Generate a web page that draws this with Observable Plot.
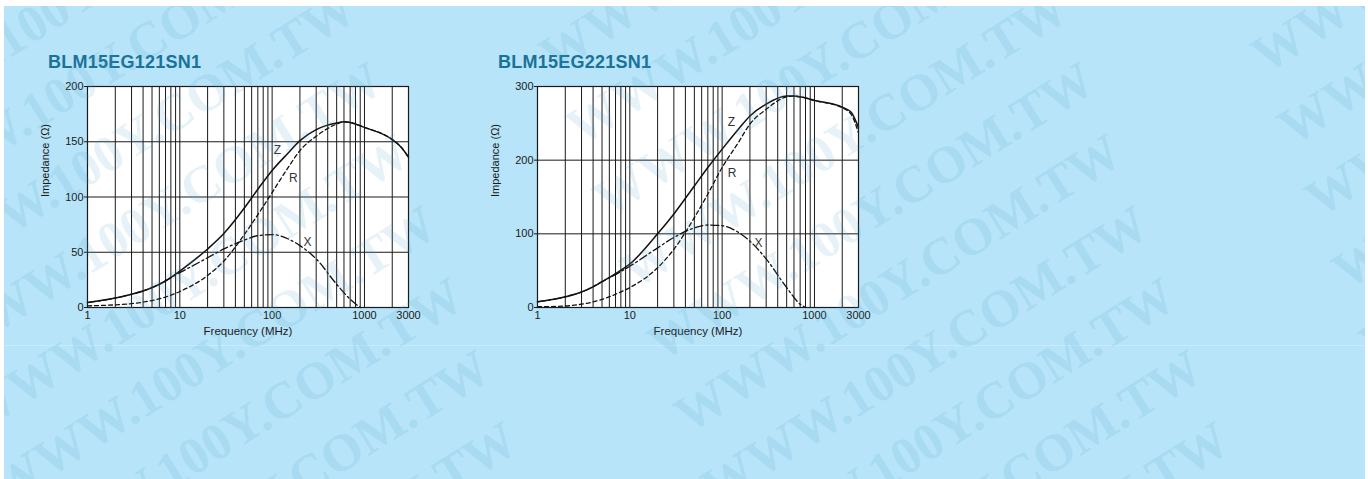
<!DOCTYPE html>
<html>
<head>
<meta charset="utf-8">
<script src="https://cdn.jsdelivr.net/npm/d3@7"></script>
<script src="https://cdn.jsdelivr.net/npm/@observablehq/plot@0.6"></script>
<style>
  html, body { margin: 0; padding: 0; background: #ffffff; }
  body { width: 1368px; height: 479px; position: relative; overflow: hidden; font-family: "Liberation Sans", Arial, sans-serif; }
  #panel { position: absolute; left: 4px; top: 6px; width: 1361px; height: 473px; background: #b7e4f8; overflow: hidden; }
  #sep { position: absolute; left: 0; top: 339px; width: 1361px; height: 1px; background: #c8ecfb; }
  #wmlayer { position: absolute; left: 4px; top: 6px; width: 1361px; height: 473px; overflow: hidden; pointer-events: none; z-index: 5; }
  .wm { position: absolute; font-family: "Liberation Serif", "DejaVu Serif", serif; font-weight: bold; font-size: 52px; line-height: 56px; color: rgba(80, 160, 200, 0.14); white-space: nowrap; transform-origin: 0 0; transform: rotate(-32deg); }
  .title { position: absolute; font-weight: bold; font-size: 18px; letter-spacing: 0.25px; line-height: 18px; color: #1a7299; }
  .chart { position: absolute; }
</style>
</head>
<body>
<div id="panel"><div id="sep"></div></div>
<div id="wmlayer"></div>
<script>
// ---------- data ----------
const freqZR = [1, 2, 3, 4, 5, 7, 10, 20, 30, 50, 70, 100, 150, 200, 300, 500, 600, 700, 1000, 2000, 2500, 3000];

// BLM15EG121SN1
const z121 = [4.5, 8.5, 12, 15, 18, 24, 33, 53, 67, 90, 107, 124, 140, 151, 161, 167, 168, 167.5, 163, 152, 145, 136];
const r121 = [1.5, 2.4, 3.5, 4.8, 6.3, 9.5, 14.5, 29, 42, 66, 84, 104, 127, 142, 155, 166, 168, 167.5, 163, 152, 145, 136];
const freqX121 = [1, 2, 3, 5, 10, 20, 30, 50, 70, 100, 150, 200, 300, 500, 700, 900];
const x121 = [4.5, 8.5, 12, 18, 31.5, 45, 53, 61, 65, 66, 62, 56, 44, 21, 7.5, 0];

// BLM15EG221SN1
const z221 = [7.7, 14.5, 21, 28, 35, 46, 59, 100, 127, 165, 190, 215, 242, 260, 276, 287, 287, 286, 281, 272, 265, 244];
const r221 = [1, 2, 4.5, 7.5, 11, 18, 27, 54, 79, 122, 154, 190, 224, 249, 269, 286, 287, 286, 281, 271, 262, 237];
const freqX221 = [1, 2, 3, 5, 10, 20, 30, 50, 70, 100, 150, 200, 300, 500, 700, 800];
const x221 = [7.7, 14.5, 21, 35, 56, 81, 95, 108, 112, 111, 102, 90, 66, 27, 4.5, 0];

const titles = ["BLM15EG121SN1", "BLM15EG221SN1"];
const xTicks = [1, 10, 100, 1000, 3000];
const gridFreqs = [2, 3, 4, 5, 6, 7, 8, 9, 10, 20, 30, 40, 50, 60, 70, 80, 90, 100, 200, 300, 400, 500, 600, 700, 800, 900, 1000, 2000];
const yTicks121 = [0, 50, 100, 150, 200];
const yTicks221 = [0, 100, 200, 300];
const curveLabels = ["Z", "R", "X"];
const labelFreq121 = [114, 170, 242];
const labelVal121 = [142, 117, 59];
const labelFreq221 = [126, 128, 248];
const labelVal221 = [251, 183, 88];
const xLabel = "Frequency (MHz)";
const yLabel = "Impedance (\u03A9)";
const watermark = "WWW.100Y.COM.TW";

// ---------- watermark tiling (decoration of the page background) ----------
const wmLayer = document.getElementById("wmlayer");
const ang = 32 * Math.PI / 180;
const ux = Math.cos(ang), uy = -Math.sin(ang);
const period = 680, rowDx = 27, rowDy = 72;
for (let i = -3; i <= 3; i++) {
  for (let k = -12; k <= 12; k++) {
    const sx = 631 + i * period * ux + k * rowDx;
    const sy = 284 + i * period * uy + k * rowDy;
    const ex = sx + 440, ey = sy - 275;
    if (ex < -60 || sx > 1400 || ey > 520 || sy < -60) continue;
    const d = document.createElement("div");
    d.className = "wm";
    d.textContent = watermark;
    d.style.left = (sx - 24) + "px";
    d.style.top = (sy - 38) + "px";
    wmLayer.appendChild(d);
  }
}

function makeChart(zs, rs, fx, xs, yMax, yTicks, lf, lv) {
  const rows = (vals, f) => f.map((d, i) => ({f: d, v: vals[i]}));
  const lbl = curveLabels.map((t, i) => ({t, f: lf[i], v: lv[i]}));
  return Plot.plot({
    width: 400,
    height: 272,
    marginLeft: 57,
    marginRight: 22,
    marginTop: 11,
    marginBottom: 40,
    style: {fontFamily: "'Liberation Sans', Arial, sans-serif", fontSize: "11px", color: "#1a1a1a", background: "transparent", overflow: "visible"},
    x: {type: "log", domain: [1, 3000]},
    y: {domain: [0, yMax]},
    marks: [
      Plot.frame({fill: "white", stroke: null}),
      Plot.ruleX(gridFreqs, {stroke: "#1a1a1a", strokeWidth: 1}),
      Plot.ruleY(yTicks.slice(1, -1), {stroke: "#1a1a1a", strokeWidth: 1}),
      Plot.line(rows(xs, fx), {x: "f", y: "v", stroke: "#111", strokeWidth: 1.3, strokeDasharray: "8,3,2,3", curve: "monotone-x"}),
      Plot.line(rows(rs, freqZR), {x: "f", y: "v", stroke: "#111", strokeWidth: 1.3, strokeDasharray: "4,3", curve: "monotone-x"}),
      Plot.line(rows(zs, freqZR), {x: "f", y: "v", stroke: "#111", strokeWidth: 1.5, curve: "monotone-x"}),
      Plot.frame({stroke: "#1a1a1a", strokeWidth: 1.2}),
      Plot.axisY({ticks: yTicks, tickSize: 3, tickPadding: 1, label: null, fontSize: 11}),
      Plot.axisX({ticks: xTicks, tickFormat: d => String(d), tickSize: 0, tickPadding: 4, label: null, fontSize: 11}),
      Plot.text([xLabel], {frameAnchor: "bottom", dy: 24, fontSize: 11.5, lineAnchor: "middle"}),
      Plot.text([yLabel], {frameAnchor: "left", dx: -42, rotate: -90, fontSize: 11, lineAnchor: "middle"}),
      Plot.text(lbl, {x: "f", y: "v", text: "t", fontSize: 12, fill: "#333", lineAnchor: "middle"})
    ]
  });
}

const specs = [
  {left: 30, tl: 48, zs: z121, rs: r121, fx: freqX121, xs: x121, yMax: 200, yt: yTicks121, lf: labelFreq121, lv: labelVal121},
  {left: 480, tl: 498, zs: z221, rs: r221, fx: freqX221, xs: x221, yMax: 300, yt: yTicks221, lf: labelFreq221, lv: labelVal221}
];
specs.forEach((s, i) => {
  const t = document.createElement("div");
  t.className = "title";
  t.textContent = titles[i];
  t.style.left = s.tl + "px";
  t.style.top = "53px";
  document.body.appendChild(t);
  const c = document.createElement("div");
  c.className = "chart";
  c.style.left = s.left + "px";
  c.style.top = "75px";
  c.appendChild(makeChart(s.zs, s.rs, s.fx, s.xs, s.yMax, s.yt, s.lf, s.lv));
  document.body.appendChild(c);
});
</script>
</body>
</html>
